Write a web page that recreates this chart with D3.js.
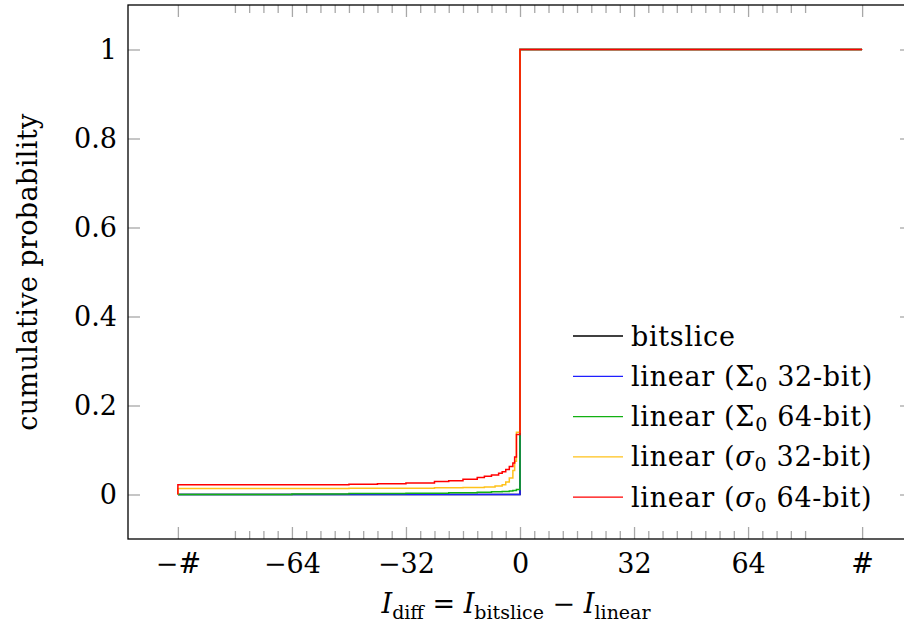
<!DOCTYPE html>
<html>
<head>
<meta charset="utf-8">
<script src="https://cdn.jsdelivr.net/npm/d3@7"></script>
<style>
  body{margin:0;background:#fff;}
  svg{display:block;font-family:"DejaVu Serif",serif;}
</style>
</head>
<body>
<div id="chart"></div>
<script>
// tick values and labels
const xMajor=[-96,-64,-32,0,32,64,96];
const xMajorLabels=["\u2212#","\u221264","\u221232","0","32","64","#"];
const yMajor=[0,0.2,0.4,0.6,0.8,1];
const yMajorLabels=["0","0.2","0.4","0.6","0.8","1"];

// series (const plot, value holds until next x)
const bitsliceX=[-96,0,96];
const bitsliceY=[0,1,1];
const sigmaBig32X=[-96,0,96];
const sigmaBig32Y=[0,1,1];
const sigmaBig64X=[-96,-64,-48,-32,-20,-12,-8,-5,-3,-2,-1,0,96];
const sigmaBig64Y=[0,0.001,0.002,0.003,0.004,0.005,0.006,0.007,0.008,0.009,0.011,1,1];
const sigmaSmall32X=[-96,-96,-48,-24,-16,-10,-7,-5,-4,-3,-2,-1.5,-1,0,96];
const sigmaSmall32Y=[0,0.0135,0.014,0.015,0.016,0.017,0.019,0.022,0.028,0.037,0.054,0.075,0.14,1,1];
const sigmaSmall64X=[-96,-96,-64,-48,-40,-32,-24,-20,-16,-12,-10,-8,-6,-5,-4,-3,-2,-1.5,-1,0,96];
const sigmaSmall64Y=[0,0.022,0.022,0.023,0.024,0.026,0.029,0.031,0.034,0.038,0.041,0.044,0.048,0.051,0.056,0.063,0.071,0.084,0.135,1,1];

const seriesNames=["bitslice","linear (\u03A3|0| 32-bit)","linear (\u03A3|0| 64-bit)","linear (~\u03C3|0| 32-bit)","linear (~\u03C3|0| 64-bit)"];
const seriesColors=["#000000","#1f1fff","#12b012","#ffc21a","#ff0000"];

(function(){
  const W=904,H=630;
  const m={top:5,left:128,right:-8,bottom:91};
  const w=W-m.left-m.right, h=H-m.top-m.bottom;
  const svg=d3.select("#chart").append("svg").attr("width",W).attr("height",H);
  const g=svg.append("g").attr("transform",`translate(${m.left},${m.top})`);
  const x=d3.scaleLinear().domain([-110,110]).range([0,w]);
  const y=d3.scaleLinear().domain([-0.1,1.1]).range([h,0]);
  const xMinor=d3.range(-80,81,4).filter(v=>!xMajor.includes(v));
  const tickCol="#a8a8a8", fs=27, sub=19;

  const styleTicks=s=>{
    s.select(".domain").remove();
    s.selectAll("line").attr("stroke",tickCol).attr("stroke-width",1.3);
    s.selectAll("text").attr("fill","#000").attr("font-size",fs).attr("font-family","DejaVu Serif");
  };
  // bottom
  g.append("g").attr("transform",`translate(0,${h})`)
    .call(d3.axisBottom(x).tickValues(xMinor).tickSize(-8).tickFormat(""))
    .call(styleTicks);
  g.append("g").attr("transform",`translate(0,${h})`)
    .call(d3.axisBottom(x).tickValues(xMajor).tickSize(-12).tickPadding(15).tickFormat((d,i)=>xMajorLabels[i]))
    .call(styleTicks);
  // top
  g.append("g")
    .call(d3.axisTop(x).tickValues(xMinor).tickSize(-8).tickFormat(""))
    .call(styleTicks);
  g.append("g")
    .call(d3.axisTop(x).tickValues(xMajor).tickSize(-12).tickFormat(""))
    .call(styleTicks);
  // left
  g.append("g")
    .call(d3.axisLeft(y).tickValues(yMajor).tickSize(-12).tickPadding(11).tickFormat((d,i)=>yMajorLabels[i]))
    .call(styleTicks);
  // right
  g.append("g").attr("transform",`translate(${w},0)`)
    .call(d3.axisRight(y).tickValues(yMajor).tickSize(-12).tickFormat(""))
    .call(styleTicks);

  // series
  const line=d3.line().x(d=>x(d[0])).y(d=>y(d[1])).curve(d3.curveStepAfter);
  const series=[
    d3.zip(bitsliceX,bitsliceY),
    d3.zip(sigmaBig32X,sigmaBig32Y),
    d3.zip(sigmaBig64X,sigmaBig64Y),
    d3.zip(sigmaSmall32X,sigmaSmall32Y),
    d3.zip(sigmaSmall64X,sigmaSmall64Y)
  ];
  g.selectAll("path.series").data(series).join("path").attr("class","series")
    .attr("fill","none").attr("stroke",(d,i)=>seriesColors[i]).attr("stroke-width",1.5)
    .attr("d",line);

  // frame
  g.append("rect").attr("width",w).attr("height",h)
    .attr("fill","none").attr("stroke","#000").attr("stroke-width",1.3);

  // legend
  const lg=g.append("g").attr("transform",`translate(${573-m.left},${336-m.top})`);
  const rows=lg.selectAll("g").data(seriesNames).join("g")
    .attr("transform",(d,i)=>`translate(0,${i*40.3})`);
  rows.append("line").attr("x1",0).attr("x2",50)
    .attr("stroke",(d,i)=>seriesColors[i]).attr("stroke-width",1.3);
  rows.each(function(d){
    const t=d3.select(this).append("text").attr("x",58).attr("y",9.5)
      .attr("font-size",fs).attr("letter-spacing",0.7);
    d.split("|").forEach((p,k)=>{
      if(k%2===1){
        t.append("tspan").attr("font-size",sub).attr("dy",5).text(p);
      }else if(p.includes("~")){
        const [a,b]=p.split("~");
        t.append("tspan").text(a);
        t.append("tspan").attr("font-style","italic").text(b);
      }else{
        t.append("tspan").attr("dy",k>0?-5:0).text(p);
      }
    });
  });

  // axis titles
  svg.append("text").attr("transform",`translate(37,${m.top+h/2}) rotate(-90)`)
    .attr("text-anchor","middle").attr("font-size",fs).attr("letter-spacing",0.4).text("cumulative probability");
  const xt=svg.append("text").attr("x",m.left+x(0)-4).attr("y",613)
    .attr("text-anchor","middle").attr("font-size",fs);
  const mathParts=[["I","i"],["diff","s"],[" = ","n"],["I","i"],["bitslice","s"],[" \u2212 ","n"],["I","i"],["linear","s"]];
  let low=false;
  mathParts.forEach(([txt,k])=>{
    const ts=xt.append("tspan").text(txt);
    if(k==="i") ts.attr("font-style","italic");
    if(k==="s"){ts.attr("font-size",sub).attr("dy",6);low=true;}
    else if(low){ts.attr("dy",-6);low=false;}
  });
})();
</script>
</body>
</html>
